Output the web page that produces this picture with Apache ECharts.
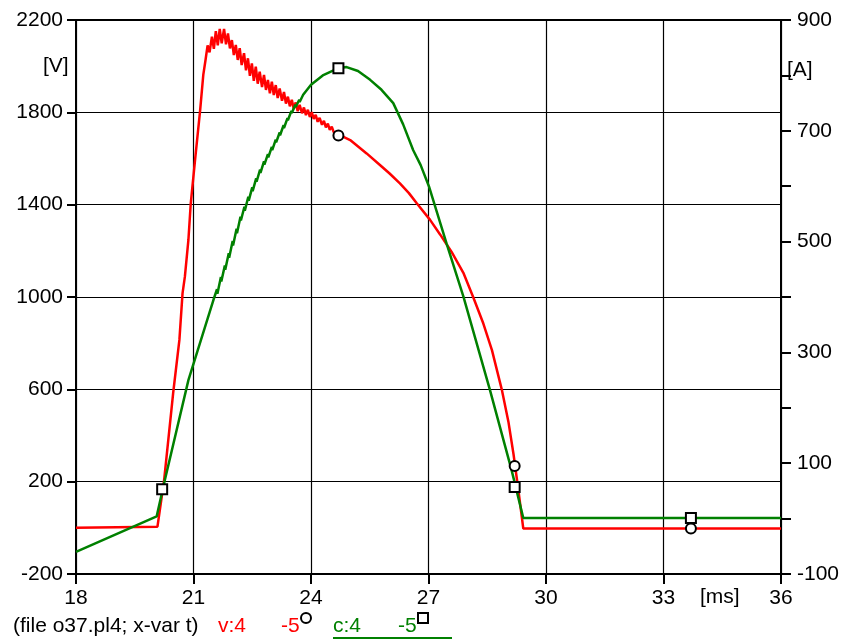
<!DOCTYPE html>
<html><head><meta charset="utf-8">
<script src="https://cdn.jsdelivr.net/npm/echarts@6/dist/echarts.min.js"></script>
<style>html,body{margin:0;padding:0;background:#fff}#c{width:846px;height:642px}</style>
</head><body><div id="c"></div>
<script>
// x ticks (ms)
const xTicks = [18, 21, 24, 27, 30, 33, 36];
// voltage v (left axis, V)
const tV = [18, 20.08, 20.25, 20.48, 20.64, 20.72, 20.78, 20.87, 20.93, 21.04, 21.17, 21.25, 21.31,
  21.36, 21.41, 21.47, 21.52, 21.57, 21.62, 21.67, 21.72, 21.78, 21.83, 21.88, 21.93, 21.98, 22.03,
  22.08, 22.13, 22.18, 22.23, 22.29, 22.34, 22.39, 22.44, 22.49, 22.54, 22.59, 22.64, 22.69, 22.75,
  22.80, 22.85, 22.90, 22.95, 23.00, 23.05, 23.10, 23.15, 23.20, 23.26, 23.31, 23.36, 23.41, 23.46,
  23.51, 23.56, 23.61, 23.66, 23.71, 23.77, 23.82, 23.87, 23.92, 23.97, 24.02, 24.07, 24.12, 24.17,
  24.22, 24.28, 24.33, 24.38, 24.43, 24.48, 24.53, 24.58, 24.63, 24.68, 24.75, 25.00, 25.42, 25.76,
  26.00, 26.27, 26.50, 26.70, 27.04, 27.30, 27.59, 27.89, 28.14, 28.40, 28.62, 28.87, 29.04, 29.17, 29.29, 29.42, 36];
const vV = [0, 5, 207, 583, 814, 1016, 1088, 1247, 1406, 1594, 1810, 1962, 2030,
  2090, 2060, 2128, 2075, 2152, 2090, 2161, 2099, 2161, 2095, 2142, 2077, 2113, 2048,
  2092, 2027, 2078, 2005, 2056, 1982, 2034, 1958, 2012, 1936, 1998, 1924, 1976, 1910,
  1962, 1897, 1940, 1882, 1933, 1875, 1918, 1862, 1903, 1850, 1888, 1838, 1868, 1826,
  1854, 1815, 1843, 1805, 1832, 1796, 1821, 1788, 1811, 1780, 1801, 1771, 1789, 1759,
  1776, 1746, 1763, 1735, 1751, 1724, 1738, 1714, 1722, 1705, 1700, 1680, 1622, 1572,
  1536, 1492, 1450, 1406, 1334, 1270, 1195, 1105, 1000, 885, 770, 600, 460, 320, 170, -3, -3];
// current c (right axis, A)
const tC = [18, 20.06, 20.27, 20.87, 21.51,
  21.60, 21.61, 21.70, 21.71, 21.80, 21.81, 21.90, 21.91, 22.00, 22.01, 22.10, 22.11, 22.20, 22.21,
  22.30, 22.31, 22.40, 22.41, 22.50, 22.51, 22.60, 22.61, 22.70, 22.71, 22.80, 22.81, 22.90, 22.91,
  23.00, 23.01, 23.10, 23.11, 23.20, 23.21, 23.30, 23.31, 23.40, 23.41, 23.50, 23.51, 23.60, 23.61,
  23.70, 23.71, 23.80, 23.81, 23.90, 23.91, 24.00,
  24.30, 24.70, 24.91, 25.20, 25.51, 25.80, 26.10, 26.35, 26.61, 26.80, 27.01, 27.46, 27.89, 28.57, 29.12, 29.42, 36];
const iC = [-60, 4, 70, 250, 395,
  414, 406, 436, 428, 457, 449, 479, 471, 501, 493, 523, 515, 545, 538,
  563, 556, 581, 574, 598, 591, 614, 608, 630, 624, 645, 639, 658, 652,
  671, 665, 684, 679, 697, 692, 710, 705, 723, 719, 736, 732, 747, 743,
  756, 752, 765, 762, 774, 771, 783,
  800, 813, 815, 808, 792, 774, 750, 712, 665, 638, 600, 497, 401, 232, 88, 1, 1];
// markers
const tCirc = [24.7, 29.2, 33.7];
const vCirc = [1700, 268, -3];
const tSq = [20.2, 24.7, 29.2, 33.7];
const iSq = [53, 813, 57, 1];

const FONT = '"Liberation Sans", Arial, sans-serif';
const FS = 21;
const zip = (a, b) => a.map((x, i) => [x, b[i]]);
const plain = v => String(Math.round(v));

const chart = echarts.init(document.getElementById('c'), null, {renderer: 'canvas'});
chart.setOption({
  animation: false,
  backgroundColor: '#fff',
  grid: {left: 76, right: 65, top: 20, bottom: 68, show: true, borderColor: '#000', borderWidth: 2, backgroundColor: 'transparent'},
  xAxis: {
    type: 'value', min: xTicks[0], max: xTicks[xTicks.length - 1], interval: 3,
    axisLine: {onZero: false, lineStyle: {color: '#000', width: 2}},
    axisTick: {show: true, length: 10, lineStyle: {color: '#000', width: 2}},
    axisLabel: {color: '#000', fontSize: FS, fontFamily: FONT, margin: 14, formatter: plain},
    splitLine: {show: true, lineStyle: {color: '#000', width: 1.2}}
  },
  yAxis: [{
    type: 'value', min: -200, max: 2200, interval: 400,
    axisLine: {show: true, onZero: false, lineStyle: {color: '#000', width: 2}},
    axisTick: {show: true, length: 9, lineStyle: {color: '#000', width: 2}},
    axisLabel: {color: '#000', fontSize: FS, fontFamily: FONT, margin: 13, formatter: plain},
    splitLine: {show: true, lineStyle: {color: '#000', width: 1.2}}
  }, {
    type: 'value', min: -100, max: 900, interval: 100, position: 'right',
    axisLine: {show: true, onZero: false, lineStyle: {color: '#000', width: 2}},
    axisTick: {show: true, length: 10, lineStyle: {color: '#000', width: 2}},
    axisLabel: {color: '#000', fontSize: FS, fontFamily: FONT, margin: 16,
      formatter: v => ((Math.round(v) + 100) % 200 === 0 ? plain(v) : '')},
    splitLine: {show: false}
  }],
  series: [{
    type: 'line', name: 'v', yAxisIndex: 0, data: zip(tV, vV), showSymbol: false,
    lineStyle: {color: '#ff0000', width: 2.5}, z: 3
  }, {
    type: 'line', name: 'c', yAxisIndex: 1, data: zip(tC, iC), showSymbol: false,
    lineStyle: {color: '#008000', width: 2.5}, z: 4
  }, {
    type: 'scatter', yAxisIndex: 0, data: zip(tCirc, vCirc), symbol: 'circle', symbolSize: 10,
    itemStyle: {color: '#fff', borderColor: '#000', borderWidth: 2, opacity: 1}, z: 5
  }, {
    type: 'scatter', yAxisIndex: 1, data: zip(tSq, iSq), symbol: 'rect', symbolSize: 10,
    itemStyle: {color: '#fff', borderColor: '#000', borderWidth: 2, opacity: 1}, z: 5
  }],
  graphic: [
    {type: 'text', left: 43, top: 56, style: {text: '[V]', font: FS + 'px ' + FONT, fill: '#000'}},
    {type: 'text', left: 787, top: 60, style: {text: '[A]', font: FS + 'px ' + FONT, fill: '#000'}},
    {type: 'text', left: 700, top: 587, style: {text: '[ms]', font: FS + 'px ' + FONT, fill: '#000'}},
    {type: 'text', left: 13, top: 616, style: {text: '(file o37.pl4; x-var t)', font: FS + 'px ' + FONT, fill: '#000'}},
    {type: 'text', left: 218, top: 616, style: {text: 'v:4', font: FS + 'px ' + FONT, fill: '#ff0000'}},
    {type: 'text', left: 281, top: 616, style: {text: '-5', font: FS + 'px ' + FONT, fill: '#ff0000'}},
    {type: 'circle', shape: {cx: 306, cy: 618, r: 5}, style: {fill: '#fff', stroke: '#000', lineWidth: 2}},
    {type: 'text', left: 333, top: 616, style: {text: 'c:4', font: FS + 'px ' + FONT, fill: '#008000'}},
    {type: 'text', left: 398, top: 616, style: {text: '-5', font: FS + 'px ' + FONT, fill: '#008000'}},
    {type: 'rect', shape: {x: 418, y: 613, width: 10, height: 10}, style: {fill: '#fff', stroke: '#000', lineWidth: 2}},
    {type: 'line', shape: {x1: 333, y1: 638, x2: 452, y2: 638}, style: {stroke: '#008000', lineWidth: 2}}
  ]
});
</script></body></html>
